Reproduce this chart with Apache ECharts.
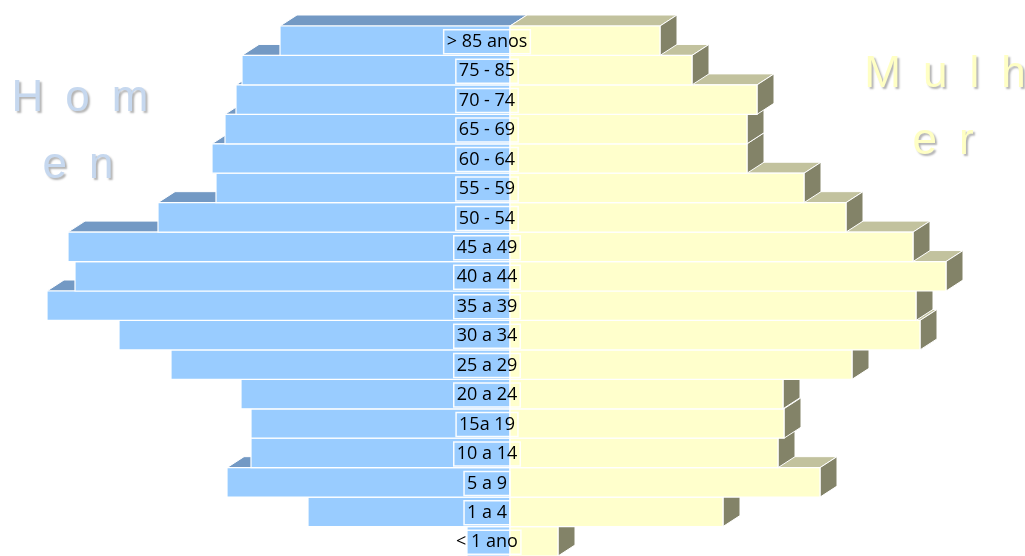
<!DOCTYPE html>
<html>
<head>
<meta charset="utf-8">
<script src="https://cdn.jsdelivr.net/npm/echarts@6/dist/echarts.min.js"></script>
<style>
html,body{margin:0;padding:0;background:#fff;}
#chart{width:1025px;height:556px;}
</style>
</head>
<body>
<div id="chart"></div>
<script>
// Age groups, top to bottom
const categories = ['> 85 anos','75 - 85','70 - 74','65 - 69','60 - 64','55 - 59','50 - 54','45 a 49','40 a 44','35 a 39','30 a 34','25 a 29','20 a 24','15a 19','10 a 14','5 a 9','1 a 4','< 1 ano'];
// Homem (left) values
const homem  = [230, 268, 274, 285, 298, 294, 352, 442, 435, 463, 391, 339, 269, 259, 259, 283, 202, 43];
// Mulher (right) values
const mulher = [150, 182, 247, 237, 237, 294, 336, 403, 436, 406, 410, 342, 273, 274, 268, 310, 213, 48];

const N = categories.length;
const DX = 17, DY = -11;

function makeRender(colors, drawSide) {
  return function (params, api) {
    const x = api.value(0);
    const idx = api.value(1);
    const p0 = api.coord([0, idx]);
    const p1 = api.coord([x, idx]);
    const h = api.size([0, 1])[1];
    const top = p0[1] - h / 2, bottom = p0[1] + h / 2;
    const x0 = Math.min(p0[0], p1[0]), x1 = Math.max(p0[0], p1[0]);
    const base = (N - idx) * 10;
    const children = [
      { type: 'polygon', z2: base + 1,
        shape: { points: [[x0, top], [x0 + DX, top + DY], [x1 + DX, top + DY], [x1, top]] },
        style: { fill: colors.top, stroke: '#fff', lineWidth: 1 } },
      { type: 'rect', z2: base + 3,
        shape: { x: x0, y: top, width: x1 - x0, height: h },
        style: { fill: colors.front, stroke: '#fff', lineWidth: 1.2 } }
    ];
    if (drawSide) {
      children.push({ type: 'polygon', z2: base + 2,
        shape: { points: [[x1, top], [x1 + DX, top + DY], [x1 + DX, bottom + DY], [x1, bottom]] },
        style: { fill: colors.side, stroke: '#fff', lineWidth: 1 } });
    }
    return { type: 'group', children: children };
  };
}

const chart = echarts.init(document.getElementById('chart'));
chart.setOption({
  animation: false,
  backgroundColor: '#ffffff',
  grid: { left: 10, top: 26, width: 1000, height: 536 },
  xAxis: { type: 'value', min: -500, max: 500, show: false },
  yAxis: { type: 'category', data: categories, inverse: true, show: false },
  graphic: [
    { type: 'text', x: 80, y: 99, style: { text: 'H\u2002o\u2002m', font: '44px "Liberation Sans"', fill: '#C6D8EF', align: 'center', verticalAlign: 'middle', textShadowColor: 'rgba(0,0,0,0.3)', textShadowOffsetX: 2, textShadowOffsetY: 2, textShadowBlur: 2 } },
    { type: 'text', x: 78, y: 166, style: { text: 'e\u2002n', font: '44px "Liberation Sans"', fill: '#C6D8EF', align: 'center', verticalAlign: 'middle', textShadowColor: 'rgba(0,0,0,0.3)', textShadowOffsetX: 2, textShadowOffsetY: 2, textShadowBlur: 2 } },
    { type: 'text', x: 945, y: 75, style: { text: 'M\u2002u\u2002l\u2002h', font: '44px "Liberation Sans"', fill: '#FFFFC4', align: 'center', verticalAlign: 'middle', textShadowColor: 'rgba(0,0,0,0.3)', textShadowOffsetX: 2, textShadowOffsetY: 2, textShadowBlur: 2 } },
    { type: 'text', x: 943, y: 142, style: { text: 'e\u2002r', font: '44px "Liberation Sans"', fill: '#FFFFC4', align: 'center', verticalAlign: 'middle', textShadowColor: 'rgba(0,0,0,0.3)', textShadowOffsetX: 2, textShadowOffsetY: 2, textShadowBlur: 2 } }
  ],
  series: [
    { name: 'Homem', type: 'custom', encode: { x: 0, y: 1 },
      data: homem.map((v, i) => [-v, i]),
      renderItem: makeRender({ front: '#99CCFF', top: '#7399C4', side: '#6A8DB5' }, false) },
    { name: 'Mulher', type: 'custom', encode: { x: 0, y: 1 },
      data: mulher.map((v, i) => [v, i]),
      renderItem: makeRender({ front: '#FFFFCC', top: '#C2C29E', side: '#838368' }, true) },
    { name: 'labels', type: 'custom', z: 10, encode: { x: 0, y: 1 },
      data: categories.map((c, i) => [0, i]),
      renderItem: function (params, api) {
        const idx = api.value(1);
        const p = api.coord([0, idx]);
        return { type: 'text', z2: 100,
          style: { text: categories[idx], x: p[0] - 23, y: p[1] + 1, align: 'center', verticalAlign: 'middle',
            font: '18px "Open Sans"', fill: '#000',
            borderColor: 'rgba(255,255,255,0.95)', borderWidth: 1.5, padding: [3, 3, 3, 3] } };
      } }
  ]
});
</script>
</body>
</html>
